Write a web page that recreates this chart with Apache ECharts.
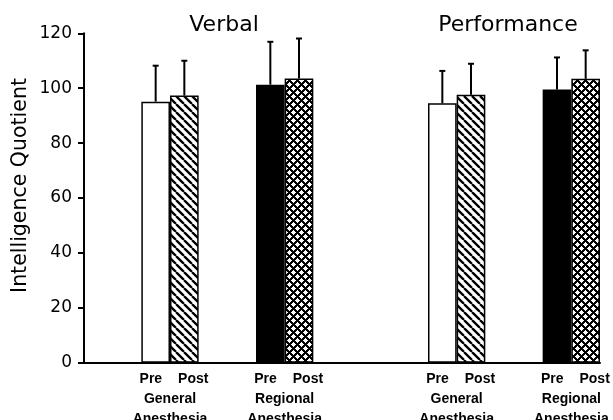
<!DOCTYPE html>
<html>
<head>
<meta charset="utf-8">
<script src="https://cdn.jsdelivr.net/npm/echarts@6/dist/echarts.min.js"></script>
<style>html,body{margin:0;padding:0;background:#fff;}#c{width:613px;height:420px;}</style>
</head>
<body>
<div id="c"></div>
<script>
// ---- data ----
const panels = ['Verbal', 'Performance'];
const groups = ['General\nAnesthesia', 'Regional\nAnesthesia', 'General\nAnesthesia', 'Regional\nAnesthesia'];
const phases = ['Pre', 'Post'];
const preMean = [95.1, 101.3, 94.5, 99.5];
const preSD = [13.1, 15.6, 11.8, 11.7];
const postMean = [97.3, 103.5, 97.6, 103.4];
const postSD = [12.7, 14.6, 11.3, 10.4];
const yTicks = [0, 20, 40, 60, 80, 100, 120];
const yTitle = 'Intelligence Quotient';

// ---- layout of slots (spacers between groups) ----
const slotOf = [1, 3, 6, 8];
const nSlots = 9;
const cats = [];
for (let i = 0; i < nSlots; i++) cats.push('s' + i);
const labelOf = {};
slotOf.forEach((s, i) => { labelOf[s] = groups[i]; });

// ---- patterns ----
function diagPattern() {
  const s = 8, c = document.createElement('canvas');
  c.width = s; c.height = s;
  const g = c.getContext('2d');
  g.fillStyle = '#fff'; g.fillRect(0, 0, s, s);
  g.strokeStyle = '#000'; g.lineWidth = 2.3;
  g.beginPath();
  for (let k = -1; k <= 1; k++) { g.moveTo(k * s, 0); g.lineTo(k * s + s, s); }
  g.stroke();
  return c;
}
function crossPattern() {
  const s = 8, c = document.createElement('canvas');
  c.width = s; c.height = s;
  const g = c.getContext('2d');
  g.fillStyle = '#fff'; g.fillRect(0, 0, s, s);
  g.fillStyle = '#000';
  for (let y = 0; y < s; y++) {
    for (let x = 0; x < s; x++) {
      const a = (x + y) % s, b = ((x - y) % s + s) % s;
      if (a < 3 || b < 3) g.fillRect(x, y, 1, 1);
    }
  }
  return c;
}
const diag = diagPattern(), cross = crossPattern();

function barData(means, isPost) {
  const d = new Array(nSlots).fill('-');
  slotOf.forEach((s, i) => {
    const regional = groups[i].indexOf('Regional') === 0;
    let color;
    if (!isPost) color = regional ? '#000' : '#fff';
    else color = { image: regional ? cross : diag, repeat: 'repeat' };
    d[s] = { value: means[i], itemStyle: { color: color } };
  });
  return d;
}
const errData = [];
slotOf.forEach((s, i) => {
  errData.push([s, preMean[i], preSD[i], -1]);
  errData.push([s, postMean[i], postSD[i], 1]);
});

const chart = echarts.init(document.getElementById('c'), null, { renderer: 'canvas' });
const titleStyle = { fontFamily: 'DejaVu Sans', fontSize: 22, fontWeight: 'normal', color: '#000' };
const option = {
  animation: false,
  backgroundColor: '#fff',
  grid: { left: 84, right: 13, top: 33.3, bottom: 57.3, containLabel: false, outerBoundsMode: 'none' },
  title: [
    { text: panels[0], left: 224, top: 14, padding: 0, textAlign: 'center', textStyle: titleStyle },
    { text: panels[1], left: 508, top: 14, padding: 0, textAlign: 'center', textStyle: titleStyle }
  ],
  graphic: [{
    type: 'text', x: 21, y: 185.5, rotation: Math.PI / 2,
    style: { text: yTitle, fontFamily: 'DejaVu Sans', fontSize: 20.5, fill: '#000', align: 'center', verticalAlign: 'middle' }
  }],
  xAxis: {
    type: 'category',
    data: cats,
    boundaryGap: true,
    axisLine: { lineStyle: { color: '#000', width: 2 } },
    axisTick: { show: false },
    axisLabel: {
      interval: 0,
      margin: 6,
      formatter: function (v, idx) {
        const lab = labelOf[idx];
        if (!lab) return '';
        const parts = lab.split('\n');
        return '{s|}{p|' + phases[0] + '}{g|}{p|' + phases[1] + '}\n{b|' + parts[0] + '}\n{b|' + parts[1] + '}';
      },
      rich: {
        p: { fontFamily: 'Liberation Sans', fontWeight: 'bold', fontSize: 14, color: '#000', lineHeight: 20 },
        g: { width: 16, lineHeight: 20 },
        s: { width: 8, lineHeight: 20 },
        b: { fontFamily: 'Liberation Sans', fontWeight: 'bold', fontSize: 14, color: '#000', lineHeight: 20 }
      }
    }
  },
  yAxis: {
    type: 'value',
    min: 0, max: 120, interval: 20,
    axisLine: { show: true, lineStyle: { color: '#000', width: 2 } },
    axisTick: { show: true, inside: false, length: 6, lineStyle: { color: '#000', width: 2 } },
    axisLabel: {
      margin: 12, fontFamily: 'DejaVu Sans', fontSize: 17, color: '#000',
      formatter: function (v) { return yTicks.indexOf(v) >= 0 ? String(v) : ''; }
    },
    splitLine: { show: false }
  },
  series: [
    { name: phases[0], type: 'bar', data: barData(preMean, false), barGap: '0%', barCategoryGap: '0%',
      itemStyle: { borderColor: '#000', borderWidth: 1.5 } },
    { name: phases[1], type: 'bar', data: barData(postMean, true), barGap: '0%', barCategoryGap: '0%',
      itemStyle: { borderColor: '#000', borderWidth: 1.5 } },
    {
      type: 'custom', z: 5,
      data: errData,
      encode: { x: 0, y: 1 },
      renderItem: function (params, api) {
        const slot = api.value(0), m = api.value(1), sd = api.value(2), side = api.value(3);
        const w = api.size([1, 0])[0];
        const b = api.coord([slot, m]);
        const t = api.coord([slot, m + sd]);
        const x = b[0] + side * w / 4;
        return {
          type: 'group',
          children: [
            { type: 'line', shape: { x1: x, y1: b[1], x2: x, y2: t[1] }, style: { stroke: '#000', lineWidth: 2 } },
            { type: 'line', shape: { x1: x - 3, y1: t[1], x2: x + 3, y2: t[1] }, style: { stroke: '#000', lineWidth: 2 } }
          ]
        };
      }
    }
  ]
};
chart.setOption(option);
</script>
</body>
</html>
